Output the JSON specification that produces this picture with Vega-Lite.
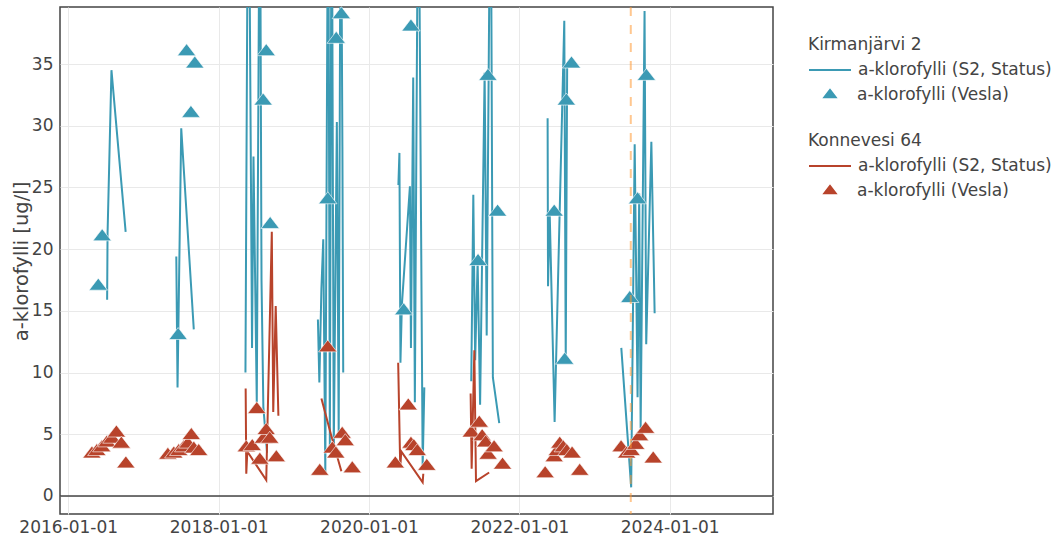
{
  "$schema": "https://vega.github.io/schema/vega-lite/v6.json",
  "width": 713,
  "height": 507,
  "autosize": {"type": "none"},
  "padding": {"left": 60, "top": 7, "right": 281, "bottom": 26},
  "datasets": {
    "kS2": [
      {"s": 2016, "d": "2016-07-08", "v": 15.9}, {"s": 2016, "d": "2016-07-10", "v": 21.2}, {"s": 2016, "d": "2016-07-29", "v": 34.5}, {"s": 2016, "d": "2016-10-06", "v": 21.4},
      {"s": 2017, "d": "2017-06-09", "v": 19.4}, {"s": 2017, "d": "2017-06-15", "v": 8.8}, {"s": 2017, "d": "2017-07-03", "v": 29.8}, {"s": 2017, "d": "2017-09-02", "v": 13.5},
      {"s": 2018, "d": "2018-05-11", "v": 10.0}, {"s": 2018, "d": "2018-05-25", "v": 58}, {"s": 2018, "d": "2018-06-12", "v": 12.0}, {"s": 2018, "d": "2018-06-19", "v": 27.5},
      {"s": 2018, "d": "2018-07-05", "v": 7.6}, {"s": 2018, "d": "2018-07-20", "v": 55}, {"s": 2018, "d": "2018-07-28", "v": 17.5}, {"s": 2018, "d": "2018-08-06", "v": 7.2},
      {"s": 2018, "d": "2018-08-24", "v": 3.5},
      {"s": 2019, "d": "2019-04-28", "v": 14.3}, {"s": 2019, "d": "2019-05-05", "v": 9.2}, {"s": 2019, "d": "2019-05-15", "v": 16.8}, {"s": 2019, "d": "2019-05-24", "v": 20.8},
      {"s": 2019, "d": "2019-06-03", "v": 1.9}, {"s": 2019, "d": "2019-06-17", "v": 55}, {"s": 2019, "d": "2019-06-25", "v": 4.0}, {"s": 2019, "d": "2019-07-04", "v": 55},
      {"s": 2019, "d": "2019-07-14", "v": 3.6}, {"s": 2019, "d": "2019-07-29", "v": 30.3}, {"s": 2019, "d": "2019-08-07", "v": 5.0}, {"s": 2019, "d": "2019-08-17", "v": 55},
      {"s": 2019, "d": "2019-08-25", "v": 28.3}, {"s": 2019, "d": "2019-08-29", "v": 10.0},
      {"s": 2020, "d": "2020-05-23", "v": 25.2}, {"s": 2020, "d": "2020-05-28", "v": 27.8}, {"s": 2020, "d": "2020-06-02", "v": 10.8}, {"s": 2020, "d": "2020-06-09", "v": 15.5},
      {"s": 2020, "d": "2020-07-18", "v": 25.1}, {"s": 2020, "d": "2020-07-23", "v": 12.0}, {"s": 2020, "d": "2020-08-03", "v": 33.9}, {"s": 2020, "d": "2020-08-11", "v": 7.6},
      {"s": 2020, "d": "2020-08-28", "v": 55}, {"s": 2020, "d": "2020-09-18", "v": 2.4}, {"s": 2020, "d": "2020-09-26", "v": 8.8},
      {"s": 2021, "d": "2021-05-12", "v": 9.3}, {"s": 2021, "d": "2021-05-22", "v": 24.4}, {"s": 2021, "d": "2021-05-31", "v": 11.0}, {"s": 2021, "d": "2021-06-12", "v": 19.0},
      {"s": 2021, "d": "2021-06-24", "v": 7.4}, {"s": 2021, "d": "2021-07-16", "v": 34.3}, {"s": 2021, "d": "2021-07-26", "v": 13.0}, {"s": 2021, "d": "2021-08-14", "v": 55},
      {"s": 2021, "d": "2021-08-25", "v": 9.6}, {"s": 2021, "d": "2021-09-25", "v": 5.9},
      {"s": 2022, "d": "2022-05-18", "v": 30.6}, {"s": 2022, "d": "2022-05-20", "v": 17.0}, {"s": 2022, "d": "2022-05-28", "v": 23.0}, {"s": 2022, "d": "2022-06-21", "v": 6.0},
      {"s": 2022, "d": "2022-08-07", "v": 38.5}, {"s": 2022, "d": "2022-08-14", "v": 11.0}, {"s": 2022, "d": "2022-08-21", "v": 35.0},
      {"s": 2023, "d": "2023-05-11", "v": 12.0}, {"s": 2023, "d": "2023-06-28", "v": 0.7}, {"s": 2023, "d": "2023-07-15", "v": 28.5}, {"s": 2023, "d": "2023-07-29", "v": 8.0},
      {"s": 2023, "d": "2023-08-06", "v": 24.5}, {"s": 2023, "d": "2023-08-13", "v": 5.5}, {"s": 2023, "d": "2023-09-01", "v": 39.3}, {"s": 2023, "d": "2023-09-09", "v": 12.3},
      {"s": 2023, "d": "2023-10-04", "v": 28.7}, {"s": 2023, "d": "2023-10-20", "v": 14.8}
    ],
    "kV": [
      {"d": "2016-05-26", "v": 17}, {"d": "2016-06-14", "v": 21},
      {"d": "2017-06-18", "v": 13}, {"d": "2017-07-29", "v": 36}, {"d": "2017-08-19", "v": 31}, {"d": "2017-09-07", "v": 35},
      {"d": "2018-08-05", "v": 32}, {"d": "2018-08-20", "v": 36}, {"d": "2018-09-08", "v": 22},
      {"d": "2019-06-15", "v": 24}, {"d": "2019-07-26", "v": 37}, {"d": "2019-08-20", "v": 39},
      {"d": "2020-06-18", "v": 15}, {"d": "2020-07-23", "v": 38},
      {"d": "2021-06-14", "v": 19}, {"d": "2021-08-01", "v": 34}, {"d": "2021-09-17", "v": 23},
      {"d": "2022-06-19", "v": 23}, {"d": "2022-08-09", "v": 11}, {"d": "2022-08-17", "v": 32}, {"d": "2022-09-11", "v": 35},
      {"d": "2023-06-21", "v": 16}, {"d": "2023-07-29", "v": 24}, {"d": "2023-09-10", "v": 34}
    ],
    "nS2": [
      {"s": 2018, "d": "2018-05-12", "v": 8.7}, {"s": 2018, "d": "2018-05-15", "v": 1.8}, {"s": 2018, "d": "2018-05-20", "v": 3.6}, {"s": 2018, "d": "2018-08-20", "v": 1.3},
      {"s": 2018, "d": "2018-09-16", "v": 21.4}, {"s": 2018, "d": "2018-09-23", "v": 6.8}, {"s": 2018, "d": "2018-10-05", "v": 15.4}, {"s": 2018, "d": "2018-10-18", "v": 6.5},
      {"s": 2019, "d": "2019-05-15", "v": 7.9}, {"s": 2019, "d": "2019-06-30", "v": 5.0}, {"s": 2019, "d": "2019-08-20", "v": 2.0},
      {"s": 2020, "d": "2020-05-22", "v": 10.8}, {"s": 2020, "d": "2020-06-01", "v": 2.3}, {"s": 2020, "d": "2020-06-06", "v": 3.6}, {"s": 2020, "d": "2020-09-18", "v": 1.1},
      {"s": 2020, "d": "2020-09-21", "v": 1.8},
      {"s": 2021, "d": "2021-05-09", "v": 8.3}, {"s": 2021, "d": "2021-05-14", "v": 2.2}, {"s": 2021, "d": "2021-05-27", "v": 11.8}, {"s": 2021, "d": "2021-06-04", "v": 1.2},
      {"s": 2021, "d": "2021-08-07", "v": 1.9}
    ],
    "nV": [
      {"d": "2016-04-25", "v": 3.4}, {"d": "2016-05-19", "v": 3.6}, {"d": "2016-06-12", "v": 3.9}, {"d": "2016-07-07", "v": 4.3},
      {"d": "2016-07-31", "v": 4.6}, {"d": "2016-08-22", "v": 5.1}, {"d": "2016-09-15", "v": 4.2}, {"d": "2016-10-07", "v": 2.6},
      {"d": "2017-04-29", "v": 3.3}, {"d": "2017-05-28", "v": 3.4}, {"d": "2017-06-21", "v": 3.6}, {"d": "2017-07-15", "v": 3.9},
      {"d": "2017-08-04", "v": 4.2}, {"d": "2017-08-21", "v": 4.9}, {"d": "2017-09-02", "v": 3.8}, {"d": "2017-09-26", "v": 3.6},
      {"d": "2018-05-15", "v": 3.9}, {"d": "2018-06-13", "v": 4.0}, {"d": "2018-07-05", "v": 7.0}, {"d": "2018-07-20", "v": 2.9},
      {"d": "2018-08-06", "v": 4.6}, {"d": "2018-08-20", "v": 5.3}, {"d": "2018-09-06", "v": 4.6}, {"d": "2018-10-08", "v": 3.1},
      {"d": "2019-05-07", "v": 2.0}, {"d": "2019-06-15", "v": 12.0}, {"d": "2019-07-07", "v": 3.8}, {"d": "2019-07-24", "v": 3.4},
      {"d": "2019-08-24", "v": 5.0}, {"d": "2019-09-08", "v": 4.4}, {"d": "2019-10-12", "v": 2.2},
      {"d": "2020-05-08", "v": 2.6}, {"d": "2020-07-10", "v": 7.3}, {"d": "2020-07-23", "v": 4.2}, {"d": "2020-08-06", "v": 4.0},
      {"d": "2020-08-23", "v": 3.6}, {"d": "2020-10-08", "v": 2.4},
      {"d": "2021-05-12", "v": 5.1}, {"d": "2021-06-20", "v": 5.9}, {"d": "2021-07-04", "v": 4.8}, {"d": "2021-07-21", "v": 4.3},
      {"d": "2021-08-02", "v": 3.3}, {"d": "2021-08-31", "v": 3.9}, {"d": "2021-10-11", "v": 2.5},
      {"d": "2022-05-06", "v": 1.8}, {"d": "2022-06-19", "v": 3.1}, {"d": "2022-07-04", "v": 3.6}, {"d": "2022-07-16", "v": 4.2},
      {"d": "2022-08-02", "v": 3.9}, {"d": "2022-08-19", "v": 3.6}, {"d": "2022-09-14", "v": 3.4}, {"d": "2022-10-21", "v": 2.0},
      {"d": "2023-05-10", "v": 3.9}, {"d": "2023-06-06", "v": 3.4}, {"d": "2023-06-28", "v": 3.6}, {"d": "2023-07-20", "v": 4.1},
      {"d": "2023-08-08", "v": 4.8}, {"d": "2023-09-06", "v": 5.4}, {"d": "2023-10-13", "v": 3.0}
    ],
    "zero": [{"v": 0}],
    "marker": [{"d": "2023-06-26"}]
  },
  "layer": [
    {
      "data": {"name": "zero"},
      "mark": {"type": "rule", "color": "#444444", "strokeWidth": 1.5},
      "encoding": {"y": {"field": "v", "type": "quantitative"}}
    },
    {
      "layer": [
        {
          "data": {"name": "kS2"},
          "mark": {"type": "line", "strokeWidth": 2, "clip": true},
          "encoding": {
            "x": {
              "field": "d", "type": "temporal",
              "scale": {"nice": false, "domain": [
                {"year": 2015, "month": 11, "date": 22},
                {"year": 2025, "month": 5, "date": 17}]},
              "axis": {
                "title": null, "grid": true, "format": "%Y-%m-%d",
                "labelPadding": 5, "labelFlush": false, "labelOverlap": false,
                "values": [
                  {"year": 2016, "month": 1, "date": 1},
                  {"year": 2018, "month": 1, "date": 1},
                  {"year": 2020, "month": 1, "date": 1},
                  {"year": 2022, "month": 1, "date": 1},
                  {"year": 2024, "month": 1, "date": 1}]
              }
            },
            "y": {
              "field": "v", "type": "quantitative",
              "scale": {"domain": [-1.46, 39.62], "nice": false, "zero": false},
              "axis": {
                "title": "a-klorofylli [ug/l]", "grid": true, "values": [0, 5, 10, 15, 20, 25, 30, 35],
                "labelPadding": 7, "titleX": -33, "titleY": 254, "titleAngle": -90,
                "titleBaseline": "alphabetic", "titleAlign": "center"
              }
            },
            "detail": {"field": "s", "type": "nominal"},
            "stroke": {
              "datum": "a-klorofylli (S2, Status)", "type": "nominal",
              "scale": {"range": ["#3b9ab4"]},
              "legend": {
                "title": "Kirmanjärvi 2", "orient": "none", "legendX": 748, "legendY": 30,
                "symbolType": "stroke", "symbolSize": 1764, "symbolStrokeWidth": 2, "symbolStrokeColor": "#3b9ab4",
                "clipHeight": 18, "titlePadding": 7, "labelOffset": 6
              }
            }
          }
        },
        {
          "data": {"name": "kV"},
          "mark": {"type": "point", "shape": "M-1,0.433L1,0.433L0,-0.866Z", "size": 340, "filled": true, "opacity": 1, "stroke": "white", "strokeWidth": 0.6},
          "encoding": {
            "x": {"field": "d", "type": "temporal"},
            "y": {"field": "v", "type": "quantitative"},
            "fill": {
              "datum": "a-klorofylli (Vesla)", "type": "nominal",
              "scale": {"range": ["#3b9ab4"]},
              "legend": {
                "title": null, "orient": "none", "legendX": 748, "legendY": 79,
                "symbolType": "M-1,0.433L1,0.433L0,-0.866Z", "symbolSize": 340,
                "clipHeight": 18, "symbolOffset": 12, "labelOffset": 17
              }
            }
          }
        }
      ]
    },
    {
      "layer": [
        {
          "data": {"name": "nS2"},
          "mark": {"type": "line", "strokeWidth": 2, "clip": true},
          "encoding": {
            "x": {"field": "d", "type": "temporal"},
            "y": {"field": "v", "type": "quantitative"},
            "detail": {"field": "s", "type": "nominal"},
            "stroke": {
              "datum": "a-klorofylli (S2, Status)", "type": "nominal",
              "scale": {"range": ["#b8432b"]},
              "legend": {
                "title": "Konnevesi 64", "orient": "none", "legendX": 748, "legendY": 126,
                "symbolType": "stroke", "symbolSize": 1764, "symbolStrokeWidth": 2, "symbolStrokeColor": "#b8432b",
                "clipHeight": 18, "titlePadding": 7, "labelOffset": 6
              }
            }
          }
        },
        {
          "data": {"name": "nV"},
          "mark": {"type": "point", "shape": "M-1,0.433L1,0.433L0,-0.866Z", "size": 340, "filled": true, "opacity": 1, "stroke": "white", "strokeWidth": 0.6},
          "encoding": {
            "x": {"field": "d", "type": "temporal"},
            "y": {"field": "v", "type": "quantitative"},
            "fill": {
              "datum": "a-klorofylli (Vesla)", "type": "nominal",
              "scale": {"range": ["#b8432b"]},
              "legend": {
                "title": null, "orient": "none", "legendX": 748, "legendY": 175,
                "symbolType": "M-1,0.433L1,0.433L0,-0.866Z", "symbolSize": 340,
                "clipHeight": 18, "symbolOffset": 12, "labelOffset": 17
              }
            }
          }
        }
      ]
    },
    {
      "data": {"name": "marker"},
      "mark": {"type": "rule", "color": "#ff9933", "opacity": 0.55, "strokeWidth": 2, "strokeDash": [9, 9]},
      "encoding": {"x": {"field": "d", "type": "temporal"}}
    }
  ],
  "resolve": {"scale": {"stroke": "independent", "fill": "independent"}},
  "config": {
    "font": "DejaVu Sans",
    "view": {"stroke": "#444444", "strokeWidth": 1.5},
    "axis": {
      "labelFontSize": 17, "labelColor": "#444444", "titleFontSize": 19.5, "titleColor": "#444444",
      "titleFontWeight": "normal", "gridColor": "#e9e9e9", "gridWidth": 1, "domain": false, "ticks": false, "tickSize": 0
    },
    "legend": {
      "titleFontSize": 17, "titleColor": "#444444", "titleFontWeight": "normal",
      "labelFontSize": 17, "labelColor": "#444444", "padding": 0, "labelLimit": 0, "titleLimit": 300
    }
  }
}
